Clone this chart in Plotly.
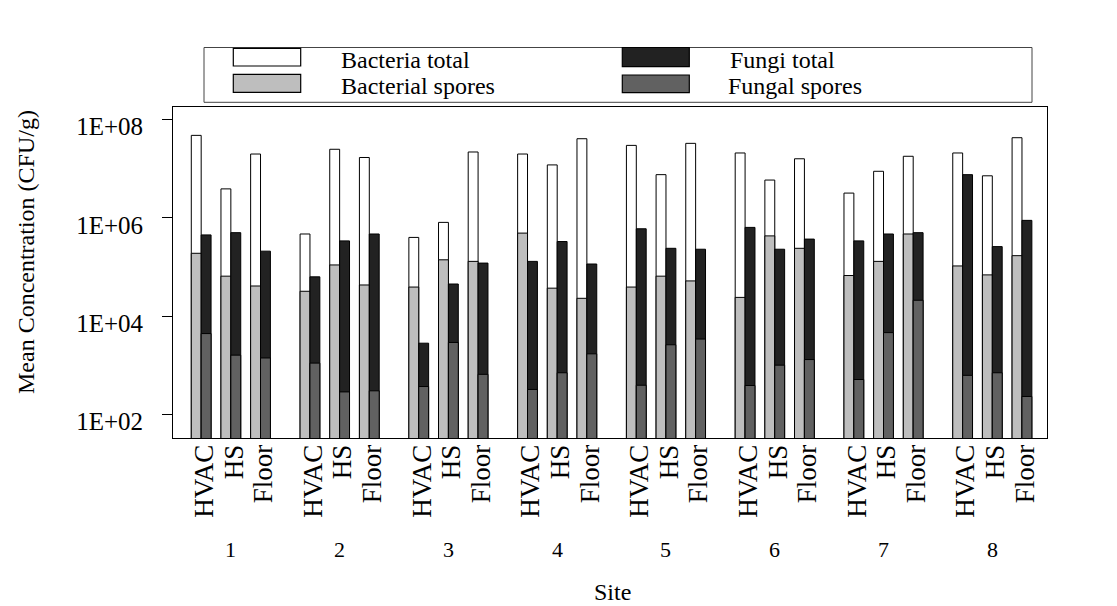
import plotly.graph_objects as go

# ---------------- data ----------------
sites = ["1", "2", "3", "4", "5", "6", "7", "8"]
sample_types = ["HVAC", "HS", "Floor"]
tick_vals_y = [1e2, 1e4, 1e6, 1e8]
tick_text_y = ["1E+02", "1E+04", "1E+06", "1E+08"]

# values ordered site 1 (HVAC, HS, Floor), site 2 (HVAC, HS, Floor), ...
bacteria_total = [4.8e7, 3.9e6, 2.0e7,
                  4.7e5, 2.5e7, 1.7e7,
                  4.0e5, 8.1e5, 2.2e7,
                  2.0e7, 1.2e7, 4.1e7,
                  3.0e7, 7.6e6, 3.3e7,
                  2.1e7, 5.9e6, 1.6e7,
                  3.2e6, 8.9e6, 1.8e7,
                  2.1e7, 7.2e6, 4.3e7]
bacterial_spores = [1.9e5, 6.5e4, 4.1e4,
                    3.2e4, 1.1e5, 4.3e4,
                    3.9e4, 1.4e5, 1.3e5,
                    4.9e5, 3.7e4, 2.3e4,
                    3.9e4, 6.5e4, 5.2e4,
                    2.4e4, 4.3e5, 2.4e5,
                    6.7e4, 1.3e5, 4.7e5,
                    1.05e5, 6.9e4, 1.7e5]
fungi_total = [4.5e5, 5.0e5, 2.1e5,
               6.3e4, 3.4e5, 4.7e5,
               2.8e3, 4.5e4, 1.2e5,
               1.3e5, 3.3e5, 1.15e5,
               6.0e5, 2.4e5, 2.3e5,
               6.4e5, 2.3e5, 3.7e5,
               3.4e5, 4.7e5, 5.0e5,
               7.6e6, 2.6e5, 8.9e5]
fungal_spores = [4.4e3, 1.6e3, 1.4e3,
                 1.1e3, 285, 300,
                 367, 2.9e3, 650,
                 320, 700, 1.7e3,
                 390, 2.6e3, 3.4e3,
                 385, 1.0e3, 1.3e3,
                 510, 4.6e3, 2.1e4,
                 620, 700, 230]

# ---------------- layout geometry ----------------
FONT = "Liberation Serif"
OFF = 8  # default page body margin offsets the figure by 8 px
SCREEN_W, SCREEN_H = 1117, 606
W_FIG, H_FIG = SCREEN_W - OFF, SCREEN_H - OFF
PLOT_L, PLOT_R, PLOT_T, PLOT_B = 173, 1047, 107, 438  # plot area in screen px
L = PLOT_L - OFF
T = PLOT_T - OFF
R = SCREEN_W - PLOT_R
B = SCREEN_H - PLOT_B
PW = PLOT_R - PLOT_L
PH = PLOT_B - PLOT_T

def px2x(px):
    return (px - PLOT_L) / PW

def py2y(py):
    return (PLOT_B - py) / PH

# bar positions: unit-wide bars, pair per sample type, 1 unit gap, 3 units between sites
SITE_STEP, TYPE_STEP = 11, 3
bact_x, fung_x, tick_x, tick_t = [], [], [], []
for s in range(len(sites)):
    for t in range(len(sample_types)):
        base = s * SITE_STEP + t * TYPE_STEP
        bact_x.append(base + 0.5)
        fung_x.append(base + 1.5)
        tick_x.append(base + 1.0)
        tick_t.append(sample_types[t])

line = dict(color="black", width=1)
fig = go.Figure()
fig.add_trace(go.Bar(x=bact_x, y=bacteria_total, width=1, name="Bacteria total",
                     marker=dict(color="white", line=line)))
fig.add_trace(go.Bar(x=bact_x, y=bacterial_spores, width=1, name="Bacterial spores",
                     marker=dict(color="#BEBEBE", line=line)))
fig.add_trace(go.Bar(x=fung_x, y=fungi_total, width=1, name="Fungi total",
                     marker=dict(color="#222222", line=line)))
fig.add_trace(go.Bar(x=fung_x, y=fungal_spores, width=1, name="Fungal spores",
                     marker=dict(color="#616161", line=line)))

annotations = []
# site numbers
for s, name in enumerate(sites):
    annotations.append(dict(x=s * SITE_STEP + 4, xref="x", y=py2y(549), yref="paper",
                            text=name, showarrow=False, xanchor="center", yanchor="middle",
                            font=dict(family=FONT, size=22, color="black")))
# axis titles
annotations.append(dict(x=px2x(612), xref="paper", y=py2y(592), yref="paper", text="Site",
                        showarrow=False, xanchor="center", yanchor="middle",
                        font=dict(family=FONT, size=24, color="black")))
annotations.append(dict(x=px2x(26), xref="paper", y=py2y(252), yref="paper",
                        text="Mean Concentration (CFU/g)", textangle=-90,
                        showarrow=False, xanchor="center", yanchor="middle",
                        font=dict(family=FONT, size=24, color="black")))

# custom legend (box, swatches, labels)
shapes = [dict(type="rect", xref="paper", yref="paper",
               x0=px2x(204), x1=px2x(1032), y0=py2y(47.5), y1=py2y(102.3),
               line=dict(color="#444444", width=1), fillcolor="rgba(0,0,0,0)")]
legend_items = [
    ("Bacteria total", "white", 233.3, 300.7, 48.3, 66.0, 339, 60),
    ("Bacterial spores", "#BEBEBE", 233.3, 300.7, 74.3, 92.3, 339, 86),
    ("Fungi total", "#222222", 622.3, 689.3, 47.5, 66.7, 728, 60),
    ("Fungal spores", "#616161", 622.3, 689.3, 75.0, 92.7, 726, 86),
]
for label, col, x0, x1, y0, y1, tx, ty in legend_items:
    shapes.append(dict(type="rect", xref="paper", yref="paper",
                       x0=px2x(x0), x1=px2x(x1), y0=py2y(y0), y1=py2y(y1),
                       line=dict(color="black", width=1.2), fillcolor=col))
    annotations.append(dict(x=px2x(tx), xref="paper", y=py2y(ty), yref="paper",
                            text=label, showarrow=False, xanchor="left", yanchor="middle",
                            font=dict(family=FONT, size=24, color="black")))

fig.update_layout(
    width=W_FIG, height=H_FIG,
    margin=dict(l=L, r=R, t=T, b=B, pad=0),
    barmode="overlay",
    showlegend=False,
    plot_bgcolor="white", paper_bgcolor="white",
    font=dict(family=FONT, color="black"),
    annotations=annotations,
    shapes=shapes,
    hovermode=False,
)
fig.update_xaxes(
    range=[-1.85, 86.53], tickmode="array", tickvals=tick_x, ticktext=tick_t,
    tickangle=-90, ticks="", tickfont=dict(family=FONT, size=27, color="black"),
    ticklabelshift=3, ticklabelstandoff=-5,
    showline=True, mirror=True, linecolor="black", linewidth=1,
    showgrid=False, zeroline=False,
)
fig.update_yaxes(
    type="log", range=[1.516, 8.259], tickmode="array",
    tickvals=tick_vals_y, ticktext=tick_text_y,
    ticks="outside", ticklen=10, tickcolor="black", tickwidth=1,
    ticklabelstandoff=14, ticklabelshift=7,
    tickfont=dict(family=FONT, size=25, color="black"),
    showline=True, mirror=True, linecolor="black", linewidth=1,
    showgrid=False, zeroline=False,
)

fig.write_html("out.html")
